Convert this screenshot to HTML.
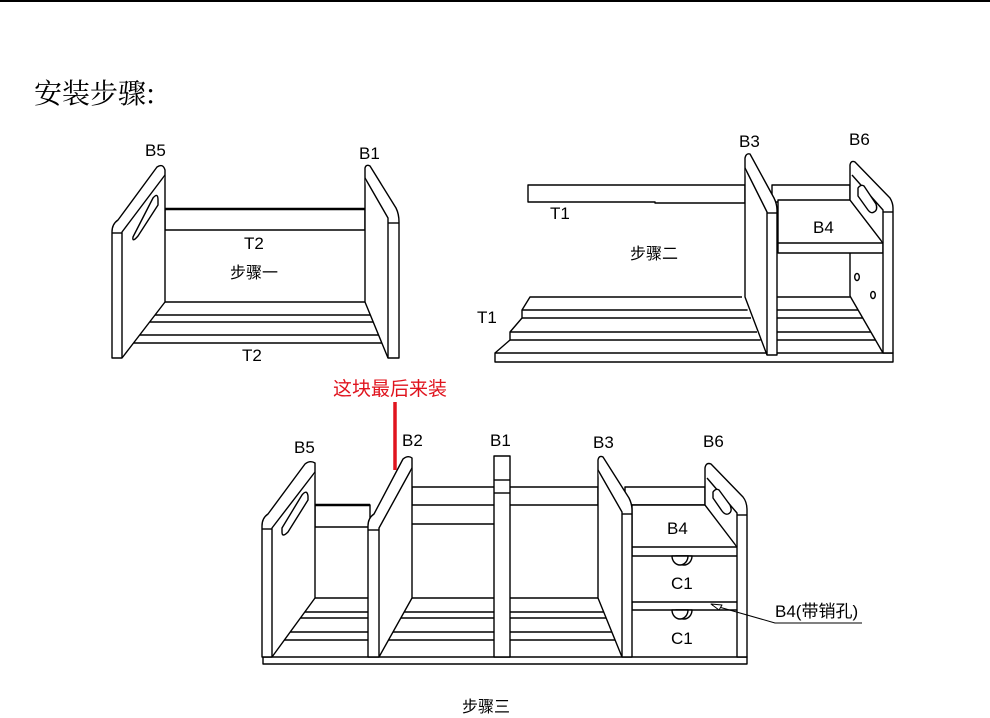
<!DOCTYPE html>
<html><head><meta charset="utf-8"><style>
html,body{margin:0;padding:0;background:#fff;}
svg{display:block}
text{font-family:"Liberation Sans","Noto Sans CJK SC",sans-serif;fill:#000}
</style></head><body>
<svg width="990" height="718" viewBox="0 0 990 718" xmlns="http://www.w3.org/2000/svg">
<line x1="0" y1="1" x2="990" y2="1" stroke="#000" stroke-width="2"/>
<text x="34" y="103" font-size="28" style="font-family:'Noto Serif CJK SC','Liberation Serif',serif">安装步骤:</text>

<g fill="#fff" stroke="#000" stroke-width="1.4" stroke-linejoin="round">
<!-- ========== Figure 1 ========== -->
<line x1="165" y1="302" x2="365" y2="302"/>
<line x1="155" y1="315" x2="370.3" y2="315"/>
<line x1="149.6" y1="322" x2="373.2" y2="322"/>
<line x1="139.7" y1="335" x2="378.6" y2="335"/>
<line x1="133.5" y1="343" x2="381.8" y2="343"/>
<rect x="165" y="209" width="200" height="21"/>
<line x1="165" y1="209" x2="365" y2="209" stroke-width="2.5"/>
<path d="M112,358 L112,232 Q112,224 118,220 L157,167 Q163,163 165,170 L165,302 L122,358 Z"/>
<path d="M122,358 L122,232 L165,175"/>
<line x1="112" y1="233" x2="122" y2="233"/>
<path d="M134,235 L153,198 Q158,192 158,200 L158,205 L138,236 Q132,243 133,237 Z"/>
<path d="M365,302 L365,168 Q366,164 370,166 L396,208 Q399,214 399,222 L399,358 L388,358 Z"/>
<path d="M388,358 L388,218 L365,178"/>
<line x1="388" y1="223" x2="399" y2="223"/>

<!-- ========== Figure 2 ========== -->
<rect x="495" y="353" width="398" height="9"/>
<path d="M742,297 L530,297 L522,310 L522,318 L510,332 L510,340 L495,353" fill="none"/>
<line x1="522" y1="310" x2="747.6" y2="310"/>
<line x1="522" y1="318" x2="751" y2="318"/>
<line x1="510" y1="332" x2="757" y2="332"/>
<line x1="510" y1="340" x2="760.5" y2="340"/>
<line x1="777" y1="297" x2="850" y2="297"/>
<line x1="777" y1="310" x2="858" y2="310"/>
<line x1="777" y1="318" x2="862.7" y2="318"/>
<line x1="777" y1="332" x2="870.8" y2="332"/>
<line x1="777" y1="340" x2="875.5" y2="340"/>
<line x1="850" y1="296" x2="883" y2="353"/>
<line x1="850" y1="252" x2="850" y2="296"/>
<path d="M528,185 L745,185 L745,203 L655,203 L655,202 L528,202 Z"/>
<rect x="772" y="185" width="78" height="17"/>
<path d="M778,200 L850,200 L883,243 L883,253 L778,253 Z"/>
<line x1="778" y1="243" x2="883" y2="243"/>
<path d="M745,297 L745,158 Q746,153 750,154 L774,198 Q777,204 777,210 L777,355 L767,355 Z"/>
<path d="M767,355 L767,212 L745,168"/>
<line x1="767" y1="213" x2="777" y2="213"/>
<path d="M850,200 L850,165 Q851,160 855,162 L890,198 Q893,203 893,208 L893,353 L883,353 L883,243 Z"/>
<path d="M883,243 L883,210 L852,175"/>
<line x1="883" y1="212" x2="893" y2="212"/>
<path d="M858,188 Q861,184 864,186 L876,204 Q878,210 874,212 Q871,214 868,210 L858,196 Z"/>
<ellipse cx="857" cy="277" rx="2.3" ry="3.5"/>
<ellipse cx="873" cy="295" rx="2.3" ry="3.5"/>

<!-- ========== Figure 3 ========== -->
<rect x="263" y="657" width="484" height="7"/>
<line x1="315" y1="598" x2="368" y2="598"/>
<line x1="304.8" y1="612" x2="368" y2="612"/>
<line x1="300.4" y1="618" x2="368" y2="618"/>
<line x1="290.2" y1="632" x2="368" y2="632"/>
<line x1="284.4" y1="640" x2="368" y2="640"/>
<line x1="412" y1="598" x2="494" y2="598"/>
<line x1="404.2" y1="612" x2="494" y2="612"/>
<line x1="400.8" y1="618" x2="494" y2="618"/>
<line x1="393" y1="632" x2="494" y2="632"/>
<line x1="388.5" y1="640" x2="494" y2="640"/>
<line x1="510" y1="598" x2="598" y2="598"/>
<line x1="510" y1="612" x2="603.7" y2="612"/>
<line x1="510" y1="618" x2="606.1" y2="618"/>
<line x1="510" y1="632" x2="611.8" y2="632"/>
<line x1="510" y1="640" x2="615.1" y2="640"/>
<rect x="315" y="505" width="55" height="22"/>
<line x1="315" y1="505" x2="370" y2="505" stroke-width="2.5"/>
<rect x="412" y="487" width="186" height="18"/>
<line x1="412" y1="524" x2="494" y2="524"/>
<rect x="625" y="487" width="80" height="18"/>
<path d="M632,505 L705,505 L738,547 L738,556 L632,556 Z"/>
<line x1="632" y1="547" x2="738" y2="547"/>
<rect x="632" y="602" width="106" height="8"/>
<!-- knobs -->
<path d="M676,556 A8,9 0 0,0 692,556 Z"/>
<path d="M672,556 A8,9 0 0,0 688,556 Z"/>
<path d="M676,610 A8,9 0 0,0 692,610 Z"/>
<path d="M672,610 A8,9 0 0,0 688,610 Z"/>
<!-- B5 -->
<path d="M262,657 L262,526 Q262,518 268,514 L305,464 Q310,460 315,463 L315,598 L272,657 Z"/>
<path d="M272,657 L272,528 L315,472"/>
<line x1="262" y1="529" x2="272" y2="529"/>
<path d="M282,528 L302,495 Q307,489 308,496 L308,500 L288,532 Q282,538 282,532 Z"/>
<!-- B2 -->
<path d="M368,657 L368,526 Q368,518 374,514 L403,459 Q408,455 412,458 L412,598 L379,657 Z"/>
<path d="M379,657 L379,528 L412,468"/>
<line x1="368" y1="530" x2="379" y2="530"/>
<!-- B1 -->
<rect x="494" y="456" width="16" height="201"/>
<line x1="494" y1="480" x2="510" y2="480"/>
<line x1="494" y1="493" x2="510" y2="493"/>
<!-- B3 -->
<path d="M598,598 L598,460 Q599,455 603,457 L629,498 Q632,504 632,510 L632,657 L622,657 Z"/>
<path d="M622,657 L622,512 L598,470"/>
<line x1="622" y1="514" x2="632" y2="514"/>
<!-- B6 -->
<path d="M705,505 L705,468 Q706,462 711,464 L743,497 Q747,502 747,510 L747,657 L737,657 L737,547 L705,505 Z"/>
<path d="M737,547 L737,513 L707,478"/>
<line x1="737" y1="515" x2="747" y2="515"/>
<path d="M713,492 Q716,488 719,490 L730,505 Q733,512 728,514 Q725,515 722,511 L713,498 Z"/>
<!-- arrow -->
<polyline points="862,623 775,623 712,605" fill="none" stroke-width="1"/>
<path d="M711,604 L722,605 L719,610 Z" fill="#fff" stroke-width="1"/>
</g>
<line x1="395" y1="402" x2="395" y2="470" stroke="#e0141e" stroke-width="3.5"/>

<g font-size="17">
<text x="145" y="156">B5</text>
<text x="359" y="159">B1</text>
<text x="244" y="249">T2</text>
<text x="242" y="361">T2</text>
<text x="230" y="278" font-size="16" fill="#333">步骤一</text>
<text x="739" y="147">B3</text>
<text x="849" y="145">B6</text>
<text x="550" y="219">T1</text>
<text x="477" y="323">T1</text>
<text x="813" y="233">B4</text>
<text x="630" y="259" font-size="16" fill="#333">步骤二</text>
<text x="333" y="395" font-size="19" style="fill:#e0141e">这块最后来装</text>
<text x="294" y="453">B5</text>
<text x="402" y="446">B2</text>
<text x="490" y="446">B1</text>
<text x="593" y="448">B3</text>
<text x="703" y="447">B6</text>
<text x="667" y="534">B4</text>
<text x="671" y="589">C1</text>
<text x="671" y="644">C1</text>
<text x="775" y="617">B4(带销孔)</text>
<text x="462" y="712" font-size="16" fill="#333">步骤三</text>
</g>
</svg>
</body></html>
